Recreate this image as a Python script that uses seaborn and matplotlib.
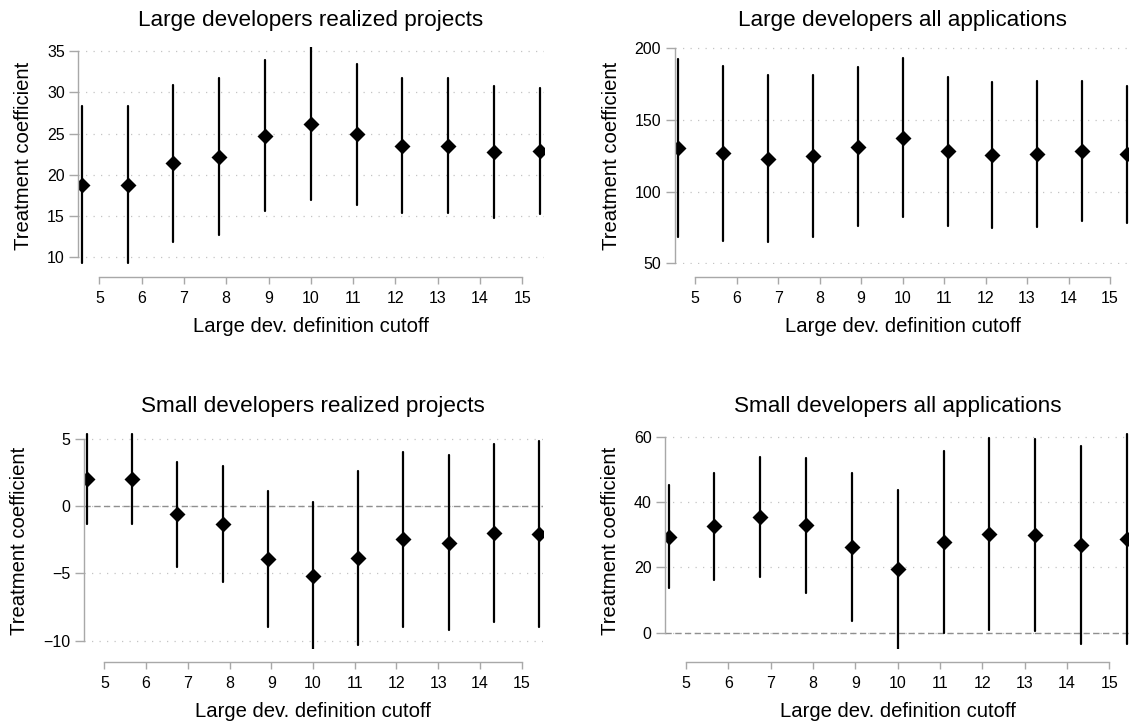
import numpy as np
import pandas as pd
import matplotlib
matplotlib.use("Agg")
import matplotlib.pyplot as plt
import seaborn as sns

# Cutoff (number of projects) used to define a "large" developer
cutoffs = [5, 6, 7, 8, 9, 10, 11, 12, 13, 14, 15]

# Large developers, realized projects
lg_real_coef = [18.8, 18.8, 21.4, 22.2, 24.7, 26.2, 24.9, 23.5, 23.5, 22.8, 22.9]
lg_real_lo = [9.3, 9.3, 11.9, 12.7, 15.6, 17.0, 16.3, 15.4, 15.4, 14.8, 15.2]
lg_real_hi = [28.3, 28.3, 30.9, 31.7, 33.9, 35.5, 33.5, 31.7, 31.7, 30.8, 30.6]

# Large developers, all applications
lg_all_coef = [130.7, 126.7, 122.8, 124.9, 131.4, 137.7, 128.4, 125.6, 126.0, 128.1, 126.3]
lg_all_lo = [68.1, 65.8, 64.7, 68.1, 76.0, 82.1, 76.0, 74.7, 75.3, 79.3, 78.4]
lg_all_hi = [192.8, 187.7, 181.4, 181.4, 186.7, 193.5, 180.2, 176.5, 177.0, 177.2, 174.0]

# Small developers, realized projects
sm_real_coef = [2.0, 2.0, -0.6, -1.35, -3.9, -5.19, -3.88, -2.46, -2.71, -2.02, -2.07]
sm_real_lo = [-1.35, -1.35, -4.5, -5.66, -8.96, -10.6, -10.35, -8.96, -9.2, -8.6, -8.96]
sm_real_hi = [5.37, 5.37, 3.31, 2.99, 1.16, 0.29, 2.62, 4.01, 3.79, 4.6, 4.85]

# Small developers, all applications
sm_all_coef = [29.4, 32.7, 35.5, 33.0, 26.1, 19.4, 27.8, 30.2, 29.9, 26.8, 28.6]
sm_all_lo = [13.8, 16.1, 17.1, 12.2, 3.6, -4.9, 0.0, 0.8, 0.4, -3.6, -3.5]
sm_all_hi = [45.1, 49.0, 53.9, 53.6, 49.0, 43.7, 55.6, 59.5, 59.3, 57.1, 60.8]

titles = [
    "Large developers realized projects",
    "Large developers all applications",
    "Small developers realized projects",
    "Small developers all applications",
]
y_ticks = [
    [10, 15, 20, 25, 30, 35],
    [50, 100, 150, 200],
    [-10, -5, 0, 5],
    [0, 20, 40, 60],
]
x_label = "Large dev. definition cutoff"
y_label = "Treatment coefficient"

series = [
    (lg_real_coef, lg_real_lo, lg_real_hi),
    (lg_all_coef, lg_all_lo, lg_all_hi),
    (sm_real_coef, sm_real_lo, sm_real_hi),
    (sm_all_coef, sm_all_lo, sm_all_hi),
]

# Panel frames in pixels: left, right, top, bottom
W, H = 1129, 727
frames = [
    (78.2, 543.5, 47, 264),
    (674.5, 1130.8, 47, 264),
    (83.5, 542.5, 433, 649),
    (665.0, 1130.4, 433, 649),
]
y_limits = [(9.17, 35.52), (49.5, 200.9), (-10.62, 5.45), (-5.0, 61.1)]
zero_line = [False, False, True, True]

# Value axis for the cutoff labels vs. categorical slots of the estimates
label_lim = (4.5, 15.5)
slot_lim = (-0.08, 10.08)


def label_to_slot(v):
    frac = (np.asarray(v, dtype=float) - label_lim[0]) / (label_lim[1] - label_lim[0])
    return slot_lim[0] + frac * (slot_lim[1] - slot_lim[0])


sns.set_style("white")
plt.rcParams["font.family"] = ["Liberation Sans", "DejaVu Sans"]
plt.rcParams["text.color"] = "black"
plt.rcParams["axes.labelcolor"] = "black"
plt.rcParams["axes.titlecolor"] = "black"

SPINE = "#a8a8a8"
GRID = "#c4c4c4"

fig = plt.figure(figsize=(W / 100, H / 100), dpi=100)

for k in range(4):
    coef, lo, hi = series[k]
    # long form: each cutoff carries its lower bound, estimate and upper bound;
    # the median gives the estimate and the full range gives the interval
    df = pd.DataFrame({
        "cutoff": [str(c) for c in cutoffs] * 3,
        "value": list(lo) + list(coef) + list(hi),
    })
    l, r, t, b = frames[k]
    ax = fig.add_axes([l / W, 1 - b / H, (r - l) / W, (b - t) / H])

    sns.pointplot(
        data=df, x="cutoff", y="value", order=[str(c) for c in cutoffs],
        estimator="median", errorbar=("pi", 100),
        color="black", marker="D", markersize=6.3, linestyle="none",
        err_kws={"linewidth": 1.6}, ax=ax,
    )

    ax.set_xlim(*slot_lim)
    ax.set_ylim(*y_limits[k])
    ax.set_xticks(label_to_slot(cutoffs))
    ax.set_yticks(y_ticks[k])

    ax.yaxis.grid(True, linestyle=(0, (1, 5)), color=GRID, linewidth=0.9)
    ax.xaxis.grid(False)
    ax.set_axisbelow(True)
    if zero_line[k]:
        ax.axhline(0, color="#8f8f8f", linewidth=1.0,
                   linestyle=(0, (4.5, 2.5)), zorder=1.5)

    sns.despine(ax=ax, trim=True, offset={"left": 0, "bottom": 9.5})
    ax.set_xticklabels([str(c) for c in cutoffs])
    for side in ("left", "bottom"):
        ax.spines[side].set_color(SPINE)
        ax.spines[side].set_linewidth(1.0)

    ax.tick_params(axis="y", direction="out", length=6.2, width=1.0,
                   color=SPINE, labelsize=11.5, labelcolor="black", pad=3.5,
                   left=True)
    ax.tick_params(axis="x", direction="out", length=5.2, width=1.0,
                   color=SPINE, labelsize=11.5, labelcolor="black", pad=5,
                   bottom=True)

    ax.set_title(titles[k], fontsize=16.2, pad=15, color="black")
    ax.set_xlabel(x_label, fontsize=14.6, labelpad=8, color="black")
    ax.set_ylabel(y_label, fontsize=14.6, labelpad=10, color="black")

fig.savefig("out.png", dpi=100, facecolor="white")
